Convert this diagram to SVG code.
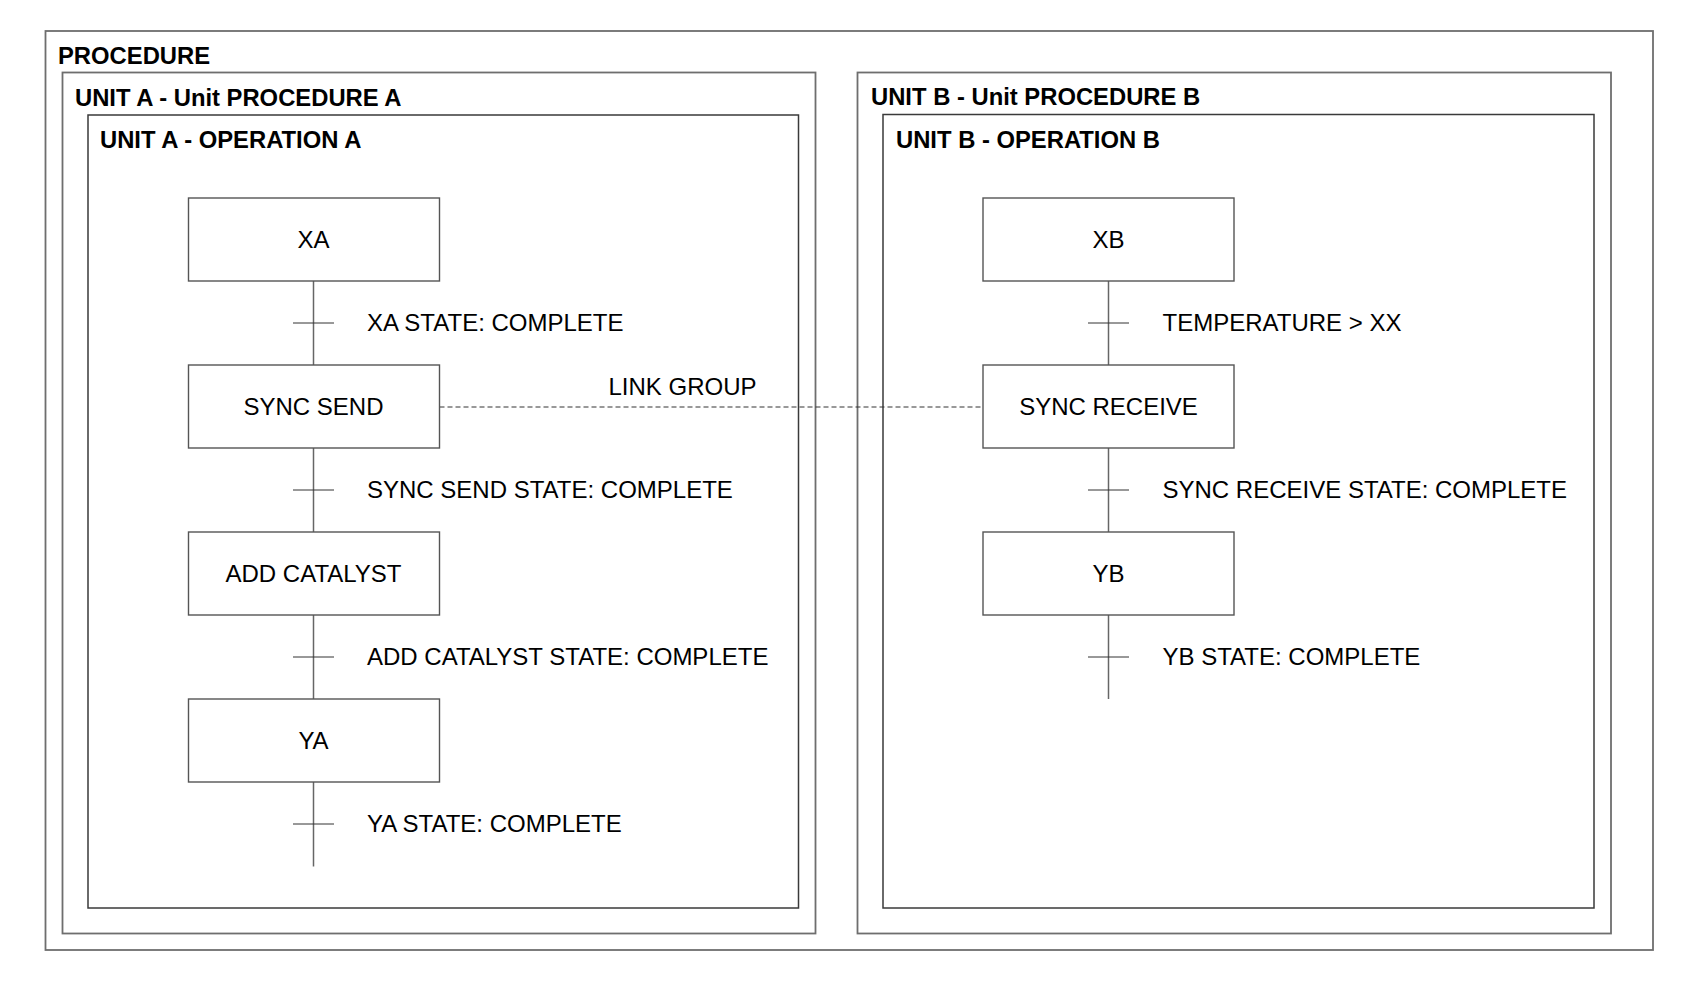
<svg xmlns="http://www.w3.org/2000/svg" width="1694" height="984" viewBox="0 0 1694 984">
<style>
.frame{fill:none;stroke:#6e6e6e;stroke-width:1.8}
.op{fill:none;stroke:#3a3a3a;stroke-width:1.5}
.step{fill:#fff;stroke:#555;stroke-width:1.4}
.hdr{font-family:"Liberation Sans",Arial,sans-serif;font-weight:bold;font-size:23.8px;fill:#000}
.txt{font-family:"Liberation Sans",Arial,sans-serif;font-size:24px;fill:#000}
.mid{text-anchor:middle}
.wire{stroke:#666;stroke-width:1.5;fill:none}
.tick{stroke:#333;stroke-width:1;fill:none}
.link{stroke:#333;stroke-width:1;stroke-dasharray:5,3;fill:none}
</style>
<rect width="1694" height="984" fill="#fff"/>
<g id="procedure">
<rect class="frame" x="45.5" y="31" width="1607.5" height="919"/>
<text class="hdr" x="58" y="64">PROCEDURE</text>
</g>
<g id="unit-a">
<rect class="frame" x="62.5" y="72.5" width="753" height="861"/>
<text class="hdr" x="75" y="106">UNIT A - Unit PROCEDURE A</text>
</g>
<g id="operation-a">
<rect class="op" x="88" y="115" width="710.5" height="793"/>
<text class="hdr" x="100" y="148">UNIT A - OPERATION A</text>
</g>
<g id="unit-b">
<rect class="frame" x="857.5" y="72.5" width="753.5" height="861"/>
<text class="hdr" x="871" y="105">UNIT B - Unit PROCEDURE B</text>
</g>
<g id="operation-b">
<rect class="op" x="883" y="114.5" width="711" height="793.5"/>
<text class="hdr" x="896" y="148">UNIT B - OPERATION B</text>
</g>
<g id="connectors">
<line class="wire" x1="313.5" y1="281" x2="313.5" y2="365"/>
<line class="wire" x1="313.5" y1="448" x2="313.5" y2="532"/>
<line class="wire" x1="313.5" y1="615" x2="313.5" y2="699"/>
<line class="wire" x1="313.5" y1="782" x2="313.5" y2="866.5"/>
<line class="tick" x1="293" y1="323" x2="334" y2="323"/>
<line class="tick" x1="293" y1="490" x2="334" y2="490"/>
<line class="tick" x1="293" y1="657" x2="334" y2="657"/>
<line class="tick" x1="293" y1="824" x2="334" y2="824"/>
<line class="wire" x1="1108.5" y1="281" x2="1108.5" y2="365"/>
<line class="wire" x1="1108.5" y1="448" x2="1108.5" y2="532"/>
<line class="wire" x1="1108.5" y1="615" x2="1108.5" y2="699"/>
<line class="tick" x1="1088" y1="323" x2="1129" y2="323"/>
<line class="tick" x1="1088" y1="490" x2="1129" y2="490"/>
<line class="tick" x1="1088" y1="657" x2="1129" y2="657"/>
<line class="link" x1="439.5" y1="407" x2="983" y2="407"/>
<text class="txt" x="367" y="331">XA STATE: COMPLETE</text>
<text class="txt" x="367" y="498">SYNC SEND STATE: COMPLETE</text>
<text class="txt" x="367" y="665">ADD CATALYST STATE: COMPLETE</text>
<text class="txt" x="367" y="832">YA STATE: COMPLETE</text>
<text class="txt" x="1162.5" y="331">TEMPERATURE &gt; XX</text>
<text class="txt" x="1162.5" y="498">SYNC RECEIVE STATE: COMPLETE</text>
<text class="txt" x="1162.5" y="665">YB STATE: COMPLETE</text>
<text class="txt" x="608.5" y="395">LINK GROUP</text>
</g>
<g id="node-xa">
<rect class="step" x="188.5" y="198" width="251" height="83"/>
<text class="txt mid" x="313.5" y="248">XA</text>
</g>
<g id="node-sync-send">
<rect class="step" x="188.5" y="365" width="251" height="83"/>
<text class="txt mid" x="313.5" y="415">SYNC SEND</text>
</g>
<g id="node-add-catalyst">
<rect class="step" x="188.5" y="532" width="251" height="83"/>
<text class="txt mid" x="313.5" y="582">ADD CATALYST</text>
</g>
<g id="node-ya">
<rect class="step" x="188.5" y="699" width="251" height="83"/>
<text class="txt mid" x="313.5" y="749">YA</text>
</g>
<g id="node-xb">
<rect class="step" x="983" y="198" width="251" height="83"/>
<text class="txt mid" x="1108.5" y="248">XB</text>
</g>
<g id="node-sync-receive">
<rect class="step" x="983" y="365" width="251" height="83"/>
<text class="txt mid" x="1108.5" y="415">SYNC RECEIVE</text>
</g>
<g id="node-yb">
<rect class="step" x="983" y="532" width="251" height="83"/>
<text class="txt mid" x="1108.5" y="582">YB</text>
</g>
</svg>
